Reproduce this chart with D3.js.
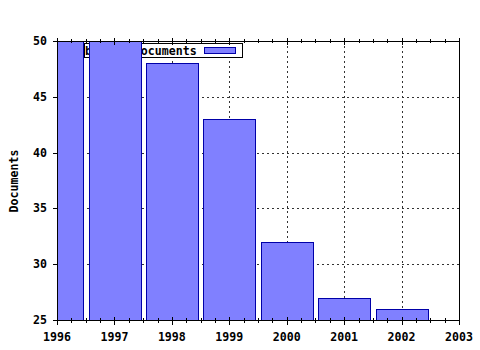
<!DOCTYPE html>
<html>
<head>
<meta charset="utf-8">
<style>
  body { margin: 0; background: #fff; }
  svg text { font-family: "DejaVu Sans Mono", monospace; font-weight: bold; font-size: 11.6px; fill: #000; }
</style>
<script src="https://d3js.org/d3.v7.min.js"></script>
</head>
<body>
<svg width="480" height="350"></svg>
<script>
// data (1996 and 1997 run past the top of the plot)
var years = [1996, 1997, 1998, 1999, 2000, 2001, 2002];
var docs = [53, 50, 48, 43, 32, 27, 26];
var xTicks = [1996, 1997, 1998, 1999, 2000, 2001, 2002, 2003];
var yTicks = [25, 30, 35, 40, 45, 50];
var legendLabel = "bibtex Documents";
var yLabel = "Documents";

var svg = d3.select("svg"),
    margin = {top: 41, right: 21, bottom: 30, left: 57},
    width = 480 - margin.left - margin.right,
    height = 350 - margin.top - margin.bottom,
    g = svg.append("g").attr("transform", "translate(" + margin.left + "," + margin.top + ")");

var x = d3.scaleLinear().domain([1996, 2003]).range([0, width]);
var y = d3.scaleLinear().domain([25, 50]).range([height, 0]);

svg.append("rect").attr("width", 480).attr("height", 350).attr("fill", "#fff").lower();

g.append("clipPath").attr("id", "plot")
  .append("rect").attr("width", width).attr("height", height);

// dotted grid
g.selectAll(".vgrid").data(xTicks.slice(1, -1)).enter().append("line")
  .attr("x1", function(d) { return Math.round(x(d)) + 0.5; })
  .attr("x2", function(d) { return Math.round(x(d)) + 0.5; })
  .attr("y1", 0).attr("y2", height)
  .attr("stroke", "#333").attr("stroke-dasharray", "2,3");
g.selectAll(".hgrid").data(yTicks.slice(1, -1)).enter().append("line")
  .attr("y1", function(d) { return Math.round(y(d)) + 0.5; })
  .attr("y2", function(d) { return Math.round(y(d)) + 0.5; })
  .attr("x1", 0).attr("x2", width)
  .attr("stroke", "#333").attr("stroke-dasharray", "2,3");

// legend (sits under the bars)
var legend = g.append("g").attr("transform", "translate(27,2)");
legend.append("rect").attr("x", 0.5).attr("y", 0.5).attr("width", 158).attr("height", 14)
  .attr("fill", "#fff").attr("stroke", "#000");
legend.append("text").attr("x", 1).attr("y", 11.5).text(legendLabel);
legend.append("rect").attr("x", 120.5).attr("y", 4.5).attr("width", 31).attr("height", 6)
  .attr("fill", "#8080ff").attr("stroke", "#0000a8");

// bars
var bw = x(1996.9) - x(1996);
g.append("g").attr("clip-path", "url(#plot)")
  .selectAll("rect").data(years).enter().append("rect")
  .attr("x", function(d) { return Math.round(x(d) - bw / 2) + 0.5; })
  .attr("width", Math.round(bw))
  .attr("y", function(d, i) { return Math.round(y(docs[i])) + 0.5; })
  .attr("height", function(d, i) { return height - Math.round(y(docs[i])); })
  .attr("fill", "#8080ff")
  .attr("stroke", "#0000a8")
  .attr("stroke-width", 1);

// frame
g.append("rect").attr("x", 0.5).attr("y", 0.5).attr("width", width).attr("height", height)
  .attr("fill", "none").attr("stroke", "#000");

// x ticks, major and quarter-year minor, bottom and top
var minor = d3.range(1996, 2003.01, 0.25);
g.selectAll(".xt").data(minor).enter().append("line")
  .attr("x1", function(d) { return Math.round(x(d)) + 0.5; })
  .attr("x2", function(d) { return Math.round(x(d)) + 0.5; })
  .attr("y1", function(d) { return d % 1 === 0 ? height - 3 : height - 2; })
  .attr("y2", function(d) { return d % 1 === 0 ? height + 5 : height + 3; })
  .attr("stroke", "#000");
g.selectAll(".xtt").data(minor).enter().append("line")
  .attr("x1", function(d) { return Math.round(x(d)) + 0.5; })
  .attr("x2", function(d) { return Math.round(x(d)) + 0.5; })
  .attr("y1", function(d) { return d % 1 === 0 ? -3 : -2; })
  .attr("y2", function(d) { return d % 1 === 0 ? 4 : 2; })
  .attr("stroke", "#000");

g.selectAll(".xl").data(xTicks).enter().append("text")
  .attr("x", function(d) { return x(d); })
  .attr("y", height + 21)
  .attr("text-anchor", "middle")
  .text(function(d) { return d; });

// y ticks
g.selectAll(".yt").data(yTicks).enter().append("line")
  .attr("x1", -4).attr("x2", 0)
  .attr("y1", function(d) { return Math.round(y(d)) + 0.5; })
  .attr("y2", function(d) { return Math.round(y(d)) + 0.5; })
  .attr("stroke", "#000");
g.selectAll(".yl").data(yTicks).enter().append("text")
  .attr("x", -10)
  .attr("y", function(d) { return y(d) + 4; })
  .attr("text-anchor", "end")
  .text(function(d) { return d; });

svg.append("text")
  .attr("transform", "translate(18,181) rotate(-90)")
  .attr("text-anchor", "middle")
  .text(yLabel);
</script>
</body>
</html>
